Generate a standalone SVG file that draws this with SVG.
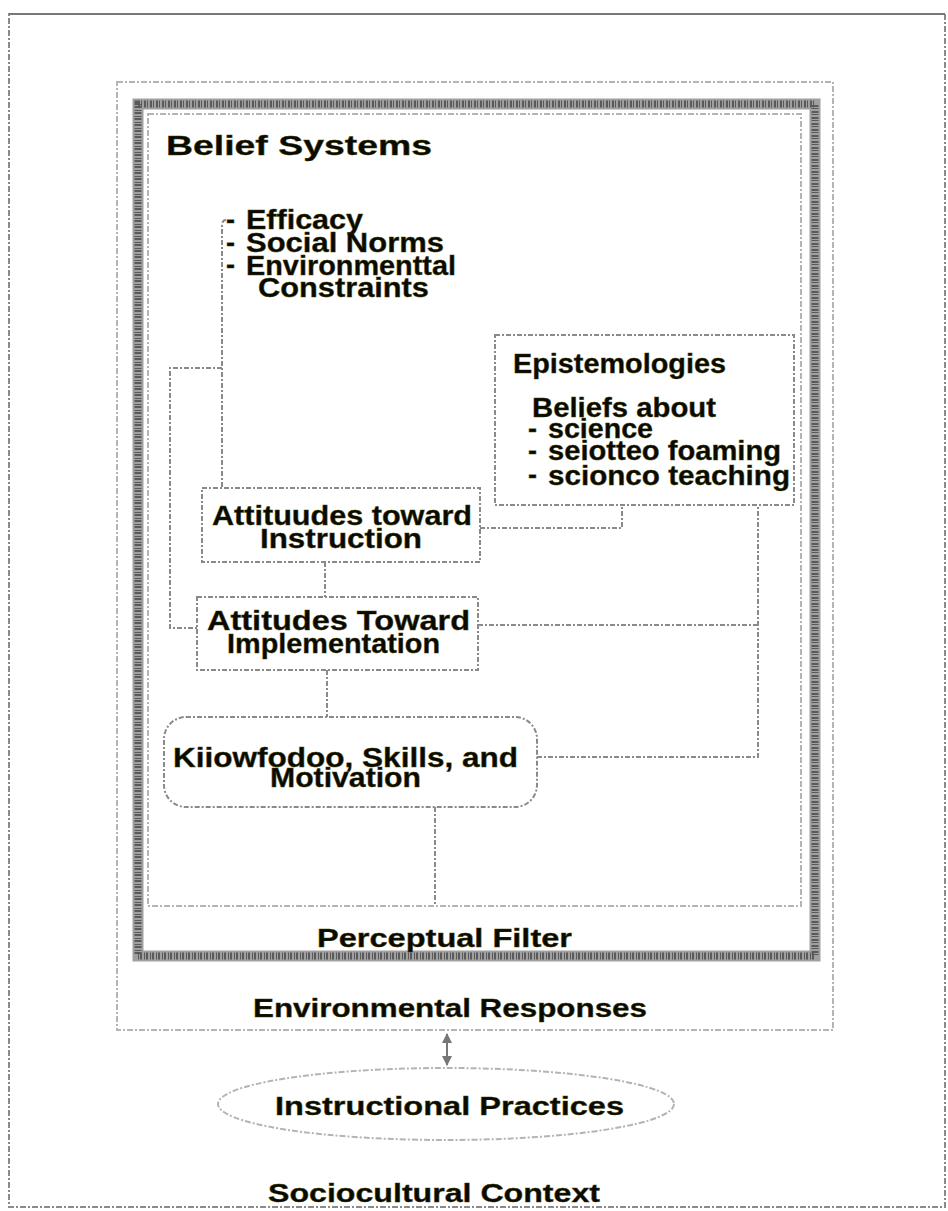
<svg xmlns="http://www.w3.org/2000/svg" width="948" height="1211" viewBox="0 0 948 1211">
<defs>
<style>
.t{font-family:"Liberation Sans",Arial,sans-serif;font-weight:bold;fill:#0a0a00;stroke:#3c3c08;stroke-width:0.4}
.ln{fill:none;stroke:#8a8a8a;stroke-width:2;stroke-dasharray:5 2 2 2}
.lt{fill:none;stroke:#b4b4b4;stroke-width:2;stroke-dasharray:6 2 2 2}
.bx{fill:#fff;stroke:#8a8a8a;stroke-width:2;stroke-dasharray:5 2 2 2}
</style>
<marker id="ah" viewBox="0 0 10 10" refX="9" refY="5" markerWidth="5" markerHeight="5" orient="auto-start-reverse">
<path d="M0,0 L10,5 L0,10 z" fill="#777"/>
</marker>
</defs>
<rect width="948" height="1211" fill="#fff"/>
<g id="outer-frame">
<rect x="9" y="14" width="936" height="1193" fill="none" stroke="#8a8a8a" stroke-width="2" stroke-dasharray="6 2 2 2"/>
<rect x="9" y="13" width="936" height="2" fill="#777"/>
</g>
<g id="environmental-responses">
<rect x="117" y="82" width="716" height="948" class="lt"/>
<text class="t" x="253" y="1017" font-size="25" textLength="394" lengthAdjust="spacingAndGlyphs">Environmental Responses</text>
</g>
<g id="perceptual-filter">
<rect x="138" y="104" width="677" height="852" fill="none" stroke="#a0a0a0" stroke-width="11"/>
<rect x="138" y="104" width="677" height="852" fill="none" stroke="#5a5a5a" stroke-width="7" stroke-dasharray="2 1 1 2"/>
<rect x="148" y="114" width="653" height="792" class="lt"/>
<text class="t" x="317" y="947" font-size="25" textLength="255" lengthAdjust="spacingAndGlyphs">Perceptual Filter</text>
</g>
<g id="belief-systems">
<text class="t" x="166" y="155" font-size="27" textLength="266" lengthAdjust="spacingAndGlyphs">Belief Systems</text>
</g>
<g id="connectors">
<path class="ln" d="M226,220 Q222,220 222,226 L222,488"/>
<path class="ln" d="M222,368 L170,368 L170,628 L197,628"/>
<path class="ln" d="M325,562 L325,597"/>
<path class="ln" d="M327,670 L327,717"/>
<path class="ln" d="M480,528 L622,528 L622,505"/>
<path class="ln" d="M478,625 L758,625"/>
<path class="ln" d="M537,757 L758,757 L758,505"/>
<path class="ln" d="M435,807 L435,906"/>
<path d="M447,1034 L447,1065" stroke="#777" stroke-width="2" fill="none" marker-start="url(#ah)" marker-end="url(#ah)"/>
</g>
<g id="factors">
<text class="t" x="226" y="229" font-size="27">-</text>
<text class="t" x="226" y="252" font-size="27">-</text>
<text class="t" x="226" y="274" font-size="27">-</text>
<text class="t" x="246" y="229" font-size="27" textLength="117" lengthAdjust="spacingAndGlyphs">Efficacy</text>
<text class="t" x="246" y="252" font-size="27" textLength="198" lengthAdjust="spacingAndGlyphs">Social Norms</text>
<text class="t" x="246" y="275" font-size="27" textLength="210" lengthAdjust="spacingAndGlyphs">Environmenttal</text>
<text class="t" x="258" y="297" font-size="27" textLength="171" lengthAdjust="spacingAndGlyphs">Constraints</text>
</g>
<g id="epistemologies">
<rect x="495" y="335" width="299" height="170" class="bx"/>
<text class="t" x="513" y="373" font-size="27" textLength="213" lengthAdjust="spacingAndGlyphs">Epistemologies</text>
<text class="t" x="532" y="417" font-size="27" textLength="184" lengthAdjust="spacingAndGlyphs">Beliefs about</text>
<text class="t" x="528" y="438" font-size="27">-</text>
<text class="t" x="528" y="460" font-size="27">-</text>
<text class="t" x="528" y="484" font-size="27">-</text>
<text class="t" x="548" y="438" font-size="27" textLength="105" lengthAdjust="spacingAndGlyphs">science</text>
<text class="t" x="548" y="460" font-size="27" textLength="233" lengthAdjust="spacingAndGlyphs">seiotteo  foaming</text>
<text class="t" x="548" y="485" font-size="27" textLength="242" lengthAdjust="spacingAndGlyphs">scionco  teaching</text>
</g>
<g id="attitudes-instruction">
<rect x="202" y="488" width="278" height="74" class="bx"/>
<text class="t" x="212" y="525" font-size="28" textLength="260" lengthAdjust="spacingAndGlyphs">Attituudes toward</text>
<text class="t" x="260" y="548" font-size="28" textLength="162" lengthAdjust="spacingAndGlyphs">Instruction</text>
</g>
<g id="attitudes-implementation">
<rect x="197" y="597" width="281" height="73" class="bx"/>
<text class="t" x="207" y="630" font-size="28" textLength="263" lengthAdjust="spacingAndGlyphs">Attitudes  Toward</text>
<text class="t" x="227" y="653" font-size="28" textLength="213" lengthAdjust="spacingAndGlyphs">Implementation</text>
</g>
<g id="knowledge-skills">
<rect x="164" y="717" width="373" height="90" rx="22" class="bx"/>
<text class="t" x="173" y="767" font-size="27" textLength="345" lengthAdjust="spacingAndGlyphs">Kiiowfodoo, Skills, and</text>
<text class="t" x="270" y="787" font-size="27" textLength="151" lengthAdjust="spacingAndGlyphs">Motivation</text>
</g>
<g id="instructional-practices">
<ellipse cx="446" cy="1104" rx="228" ry="36" class="lt"/>
<text class="t" x="275" y="1115" font-size="25" textLength="349" lengthAdjust="spacingAndGlyphs">Instructional Practices</text>
</g>
<g id="sociocultural-context">
<text class="t" x="268" y="1202" font-size="25" textLength="332" lengthAdjust="spacingAndGlyphs">Sociocultural Context</text>
</g>
</svg>
